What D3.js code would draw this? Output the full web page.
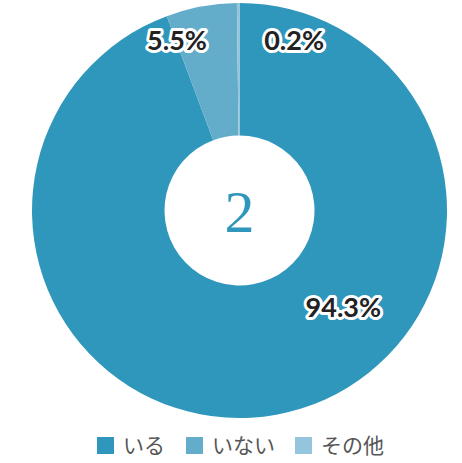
<!DOCTYPE html>
<html><head><meta charset="utf-8">
<script src="https://cdn.jsdelivr.net/npm/d3@7/dist/d3.min.js"></script>
<style>html,body{margin:0;padding:0;background:#fff;}svg{display:block;}</style>
</head><body>
<script>
const categories = ["いる", "いない", "その他"];
const values = [94.3, 5.5, 0.2];
const colors = ["#2F97BB", "#64ADCA", "#95C5DC"];
const centerLabel = "2";
// label placement (angle in degrees clockwise from top, radius in px)
const labelLayout = [{a: 133, r: 142}, {a: -20.2, r: 181}, {a: 17.8, r: 178.5}];

const W = 462, H = 463;
const cx = 239.5, cy = 210.5, R = 207.5, r0 = 75;
const svg = d3.select("body").append("svg").attr("width", W).attr("height", H);
const g = svg.append("g").attr("transform", `translate(${cx},${cy})`);

const pie = d3.pie().sort(null).value(d => d)(values);
const arc = d3.arc().innerRadius(r0).outerRadius(R);
g.selectAll("path.slice").data(pie).join("path")
  .attr("class", "slice")
  .attr("d", arc)
  .attr("fill", (d, i) => colors[i]);

g.append("text").text(centerLabel)
  .attr("x", 0).attr("y", 21)
  .attr("text-anchor", "middle")
  .attr("font-family", "Liberation Serif, DejaVu Serif, serif")
  .attr("font-size", 60)
  .attr("fill", "#2F97BB");

const lbl = g.selectAll("g.lbl").data(pie).join("g").attr("class", "lbl")
  .attr("transform", (d, i) => {
    const a = labelLayout[i].a * Math.PI / 180, rr = labelLayout[i].r;
    return `translate(${rr * Math.sin(a)},${-rr * Math.cos(a)})`;
  });
lbl.append("text")
  .text(d => d.data.toFixed(1) + "%")
  .attr("text-anchor", "middle").attr("dy", "0.36em")
  .attr("font-family", "Lato, sans-serif").attr("font-weight", 700)
  .attr("font-size", 27)
  .attr("fill", "#222")
  .attr("stroke", "#fff").attr("stroke-width", 6)
  .attr("stroke-linejoin", "round")
  .attr("paint-order", "stroke");

const lg = svg.append("g").selectAll("g").data(categories).join("g")
  .attr("transform", (d, i) => `translate(${[97, 186, 295][i]},437)`);
lg.append("rect").attr("width", 17).attr("height", 17).attr("fill", (d, i) => colors[i]);
lg.append("text").text(d => d).attr("x", 26).attr("y", 8.5).attr("dy", "0.36em")
  .attr("font-family", "Noto Sans CJK JP, sans-serif").attr("font-size", 21)
  .attr("fill", "#555");
</script>
</body></html>
